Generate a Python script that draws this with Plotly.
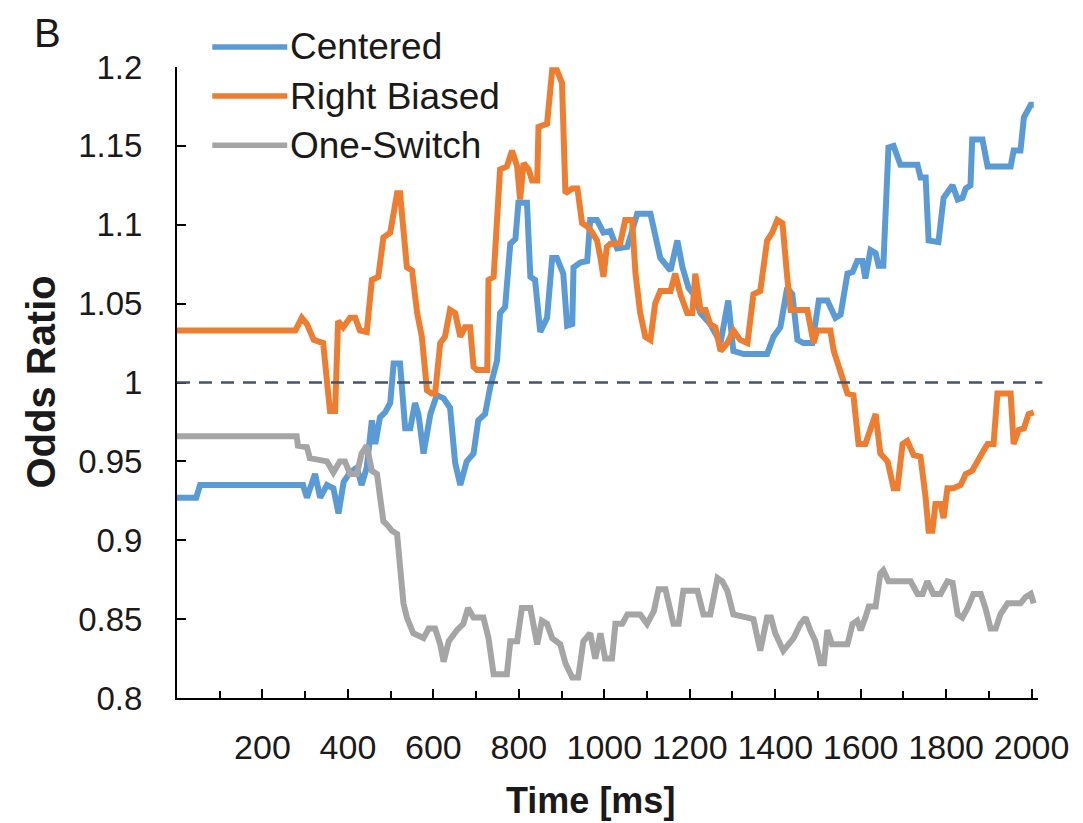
import plotly.graph_objects as go

# ---------------- data ----------------
centered_t = [0, 45, 54, 295, 304, 323, 335, 351, 366, 378, 390, 405, 421, 432, 444, 456, 464, 475, 487, 499,
              507, 522, 534, 546, 557, 565, 577, 593, 608, 624, 639, 651, 663, 678, 694, 705, 721, 733, 749, 756,
              768, 780, 792, 799, 819, 827, 838, 850, 866, 878, 889, 904, 913, 925, 928, 944, 960, 967, 983, 998,
              1014, 1030, 1054, 1077, 1108, 1131, 1155, 1171, 1183, 1197, 1209, 1225, 1248, 1272, 1290, 1302,
              1326, 1381, 1396, 1412, 1428, 1440, 1452, 1466, 1487, 1502, 1522, 1541, 1553, 1569, 1581, 1592,
              1604, 1611, 1623, 1635, 1642, 1653, 1665, 1677, 1693, 1733, 1740, 1752, 1759, 1782, 1794, 1806,
              1815, 1827, 1838, 1846, 1857, 1861, 1885, 1897, 1951, 1958, 1974, 1982, 1998, 2005]
centered_v = [0.927, 0.927, 0.935, 0.935, 0.927, 0.942, 0.927, 0.935, 0.933, 0.917, 0.937, 0.943, 0.946, 0.935,
              0.946, 0.976, 0.961, 0.978, 0.981, 0.987, 1.012, 1.012, 0.971, 0.971, 0.987, 0.980, 0.955, 0.980,
              0.992, 0.990, 0.984, 0.949, 0.935, 0.950, 0.955, 0.976, 0.980, 0.997, 1.014, 1.044, 1.048, 1.088,
              1.091, 1.114, 1.114, 1.067, 1.065, 1.032, 1.041, 1.079, 1.079, 1.069, 1.036, 1.037, 1.073, 1.076,
              1.077, 1.103, 1.103, 1.095, 1.096, 1.085, 1.086, 1.107, 1.107, 1.079, 1.071, 1.090, 1.073, 1.060,
              1.056, 1.044, 1.037, 1.025, 1.052, 1.020, 1.018, 1.018, 1.029, 1.035, 1.060, 1.056, 1.027, 1.025,
              1.025, 1.052, 1.052, 1.041, 1.043, 1.069, 1.070, 1.077, 1.077, 1.066, 1.084, 1.082, 1.074, 1.074,
              1.149, 1.150, 1.138, 1.138, 1.130, 1.130, 1.090, 1.089, 1.117, 1.121, 1.125, 1.116, 1.117, 1.123,
              1.125, 1.154, 1.154, 1.137, 1.137, 1.147, 1.147, 1.168, 1.176, 1.176]

right_t = [0, 277, 292, 304, 320, 342, 358, 370, 377, 389, 405, 417, 428, 444, 456, 471, 483, 499, 515, 522,
           538, 550, 562, 573, 585, 596, 604, 616, 627, 639, 651, 663, 674, 686, 694, 702, 726, 729, 741, 756,
           772, 784, 796, 803, 811, 823, 831, 843, 846, 866, 878, 889, 901, 909, 925, 937, 948, 960, 972, 983,
           991, 998, 1006, 1014, 1037, 1049, 1065, 1073, 1084, 1096, 1108, 1119, 1131, 1155, 1166, 1178, 1194,
           1206, 1213, 1225, 1237, 1248, 1260, 1272, 1288, 1302, 1318, 1335, 1349, 1365, 1381, 1393, 1405, 1417,
           1428, 1436, 1475, 1490, 1498, 1529, 1537, 1553, 1569, 1583, 1595, 1611, 1623, 1635, 1646, 1663, 1677,
           1686, 1698, 1709, 1724, 1740, 1752, 1759, 1768, 1775, 1787, 1794, 1803, 1817, 1834, 1846, 1861, 1873,
           1888, 1897, 1911, 1920, 1951, 1958, 1970, 1982, 1993, 2005]
right_v = [1.033, 1.033, 1.041, 1.037, 1.027, 1.025, 0.982, 0.982, 1.039, 1.035, 1.041, 1.041, 1.033, 1.032,
           1.065, 1.067, 1.092, 1.095, 1.120, 1.120, 1.073, 1.071, 1.044, 1.029, 0.995, 0.993, 0.993, 1.025,
           1.029, 1.046, 1.044, 1.029, 1.035, 1.035, 1.010, 1.008, 1.008, 1.065, 1.067, 1.135, 1.137, 1.147,
           1.137, 1.116, 1.139, 1.135, 1.128, 1.128, 1.162, 1.164, 1.198, 1.198, 1.190, 1.120, 1.123, 1.123,
           1.101, 1.099, 1.095, 1.090, 1.079, 1.067, 1.086, 1.088, 1.088, 1.103, 1.103, 1.069, 1.044, 1.029,
           1.027, 1.050, 1.058, 1.058, 1.069, 1.056, 1.044, 1.044, 1.069, 1.046, 1.046, 1.037, 1.035, 1.020,
           1.025, 1.033, 1.027, 1.025, 1.056, 1.058, 1.090, 1.095, 1.103, 1.101, 1.067, 1.046, 1.046, 1.025,
           1.033, 1.033, 1.020, 1.006, 0.993, 0.992, 0.961, 0.961, 0.971, 0.980, 0.955, 0.950, 0.933, 0.933,
           0.961, 0.963, 0.954, 0.953, 0.927, 0.906, 0.906, 0.923, 0.923, 0.914, 0.933, 0.933, 0.935, 0.942,
           0.944, 0.949, 0.957, 0.961, 0.961, 0.993, 0.993, 0.961, 0.970, 0.971, 0.980, 0.981]

switch_t = [0, 280, 283, 304, 311, 351, 366, 381, 393, 405, 421, 432, 444, 456, 468, 483, 491, 503, 515, 530,
            538, 553, 577, 589, 604, 616, 624, 636, 655, 670, 681, 694, 717, 729, 741, 772, 780, 796, 807, 827,
            843, 854, 866, 878, 897, 909, 925, 939, 951, 967, 979, 991, 1002, 1018, 1026, 1042, 1054, 1084, 1100,
            1116, 1127, 1143, 1162, 1174, 1185, 1218, 1232, 1248, 1265, 1276, 1288, 1302, 1335, 1349, 1365, 1381,
            1390, 1400, 1419, 1443, 1459, 1471, 1482, 1494, 1506, 1514, 1522, 1533, 1569, 1581, 1592, 1600, 1611,
            1619, 1635, 1646, 1653, 1665, 1717, 1733, 1745, 1756, 1770, 1787, 1803, 1815, 1827, 1838, 1850, 1864,
            1881, 1892, 1904, 1916, 1927, 1944, 1974, 1986, 1998, 2005]
switch_v = [0.966, 0.966, 0.960, 0.959, 0.952, 0.950, 0.943, 0.950, 0.950, 0.942, 0.942, 0.955, 0.960, 0.944,
            0.942, 0.912, 0.910, 0.906, 0.904, 0.860, 0.851, 0.841, 0.838, 0.844, 0.844, 0.834, 0.823, 0.836,
            0.843, 0.847, 0.857, 0.851, 0.851, 0.838, 0.815, 0.815, 0.836, 0.836, 0.857, 0.857, 0.834, 0.849,
            0.847, 0.838, 0.834, 0.822, 0.813, 0.813, 0.836, 0.841, 0.825, 0.841, 0.825, 0.825, 0.847, 0.847,
            0.853, 0.853, 0.847, 0.855, 0.869, 0.869, 0.847, 0.847, 0.868, 0.868, 0.853, 0.853, 0.876, 0.874,
            0.868, 0.853, 0.851, 0.850, 0.830, 0.851, 0.851, 0.841, 0.830, 0.838, 0.847, 0.851, 0.843, 0.836,
            0.822, 0.822, 0.843, 0.834, 0.834, 0.847, 0.849, 0.843, 0.851, 0.858, 0.858, 0.879, 0.881, 0.874,
            0.874, 0.866, 0.866, 0.874, 0.866, 0.866, 0.874, 0.873, 0.853, 0.851, 0.857, 0.866, 0.866, 0.857,
            0.844, 0.844, 0.853, 0.860, 0.860, 0.864, 0.866, 0.860]

series_names = ["Centered", "Right Biased", "One-Switch"]
series_colors = ["#5B9BD5", "#ED7D31", "#A5A5A5"]

x_tickvals = [200, 400, 600, 800, 1000, 1200, 1400, 1600, 1800, 2000]
y_tickvals = [0.8, 0.85, 0.9, 0.95, 1.0, 1.05, 1.1, 1.15, 1.2]
y_ticktext = ["0.8", "0.85", "0.9", "0.95", "1", "1.05", "1.1", "1.15", "1.2"]
reference_value = 1.0

FONT = "Liberation Sans, Arial, sans-serif"
TXT = "#1a1a1a"

fig = go.Figure()
for name, color, t, v in zip(series_names, series_colors,
                             [centered_t, right_t, switch_t],
                             [centered_v, right_v, switch_v]):
    fig.add_trace(go.Scatter(x=t, y=v, mode="lines", name=name,
                             line=dict(color=color, width=6), showlegend=False))

# reference line at odds ratio = 1
fig.add_shape(type="line", xref="paper", yref="y", x0=0, x1=1.005,
              y0=reference_value, y1=reference_value,
              line=dict(color="#44546A", width=2.5, dash="13px,9px"))

# manual legend (long line samples as in the original)
leg_y = [1.0317, 0.954, 0.876]
for name, color, yy in zip(series_names, series_colors, leg_y):
    fig.add_shape(type="line", xref="paper", yref="paper", x0=0.041, x1=0.128, y0=yy, y1=yy,
                  line=dict(color=color, width=5.5))
    fig.add_annotation(xref="paper", yref="paper", x=0.1295, y=yy, text=name, showarrow=False,
                       xanchor="left", yanchor="middle",
                       font=dict(family=FONT, size=37, color=TXT))

# panel letter and axis titles
fig.add_annotation(xref="paper", yref="paper", x=-0.150, y=1.054, text="B", showarrow=False,
                   xanchor="center", yanchor="middle", font=dict(family=FONT, size=40, color=TXT))
fig.add_annotation(xref="paper", yref="paper", x=-0.159, y=0.5, text="<b>Odds Ratio</b>", showarrow=False,
                   textangle=-90, xanchor="center", yanchor="middle",
                   font=dict(family=FONT, size=40, color=TXT))
fig.add_annotation(xref="paper", yref="paper", x=0.48, y=-0.162, text="<b>Time [ms]</b>", showarrow=False,
                   xanchor="center", yanchor="middle", font=dict(family=FONT, size=36, color=TXT))

fig.update_layout(
    width=1083, height=823,
    margin=dict(l=177, r=45, t=67, b=125),
    paper_bgcolor="white", plot_bgcolor="white",
    font=dict(family=FONT, color=TXT),
    showlegend=False,
)
fig.update_xaxes(
    range=[0, 2015], showgrid=False, zeroline=False,
    showline=True, linecolor="black", linewidth=2,
    tickmode="array", tickvals=x_tickvals, ticks="inside", ticklen=9, tickwidth=2, tickcolor="black",
    minor=dict(ticks="inside", tick0=0, dtick=100, ticklen=7, tickwidth=2, tickcolor="black"),
    tickfont=dict(family=FONT, size=34, color=TXT), ticklabelstandoff=18,
)
fig.update_yaxes(
    range=[0.8, 1.2], showgrid=False, zeroline=False,
    showline=True, linecolor="black", linewidth=2,
    tickmode="array", tickvals=y_tickvals, ticktext=y_ticktext,
    ticks="inside", ticklen=9, tickwidth=2, tickcolor="black",
    tickfont=dict(family=FONT, size=33, color=TXT), ticklabelstandoff=26,
)

fig.write_html("out.html",
               config={"displayModeBar": False},
               post_script="document.body.style.margin='0';document.body.style.overflow='hidden';")
